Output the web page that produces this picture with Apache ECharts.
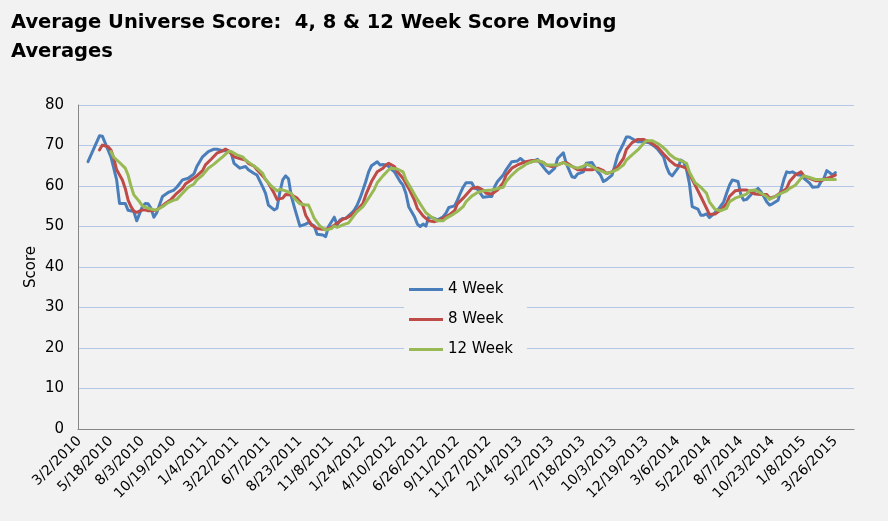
<!DOCTYPE html>
<html><head><meta charset="utf-8">
<script src="https://cdn.jsdelivr.net/npm/echarts@6/dist/echarts.min.js"></script>
<style>html,body{margin:0;padding:0;background:#f2f2f2}#c{width:888px;height:521px}</style>
</head><body><div id="c"></div>
<script>
// Weekly categories (labels shown every 11th week)
const categoryCount = 271;
const categories = [];
for (let i = 0; i < categoryCount; i++) {
  const d = new Date(Date.UTC(2010, 2, 2 + i * 7 + (i >= 146 ? 2 : 0)));
  categories.push((d.getUTCMonth() + 1) + '/' + d.getUTCDate() + '/' + d.getUTCFullYear());
}
const seriesNames = ['4 Week', '8 Week', '12 Week'];
// [week index, score]
const week4 = [[3,66.0],[7,72.4],[8,72.3],[11,67.2],[13,61.5],[14,55.7],[16,55.7],[17,54.0],[19,53.7],[20,51.4],[22,54.9],[23,55.7],[24,55.6],[25,54.5],[26,52.3],[27,53.4],[29,57.4],[31,58.4],[33,59.0],[34,59.7],[36,61.5],[38,61.9],[40,63.0],[41,64.8],[43,67.2],[45,68.5],[47,69.1],[48,69.1],[50,68.7],[52,68.7],[53,68.1],[54,65.6],[56,64.4],[58,64.8],[59,64.0],[61,63.1],[62,62.7],[64,59.8],[65,58.2],[66,55.3],[68,54.1],[69,54.5],[70,58.5],[71,61.5],[72,62.5],[73,61.8],[74,57.5],[75,54.9],[77,50.1],[79,50.6],[80,51.0],[82,50.1],[83,48.1],[85,47.9],[86,47.5],[87,50.0],[89,52.3],[90,50.4],[91,51.6],[92,52.0],[93,52.0],[95,53.3],[96,54.1],[97,55.3],[98,57.0],[99,59.0],[100,61.1],[101,63.5],[102,65.0],[104,66.0],[105,65.2],[106,65.3],[107,65.2],[108,64.8],[110,63.5],[111,62.3],[112,61.1],[113,60.2],[114,58.2],[115,54.9],[117,52.4],[118,50.6],[119,50.0],[120,50.6],[121,50.1],[122,52.4],[124,52.0],[125,51.6],[127,52.4],[128,53.3],[129,54.7],[131,55.1],[132,56.5],[133,58.2],[134,59.7],[135,60.8],[137,60.8],[138,59.5],[139,59.2],[141,57.2],[143,57.4],[144,57.4],[145,59.8],[146,61.1],[148,62.7],[149,64.0],[151,66.0],[153,66.2],[154,66.8],[155,66.2],[156,65.6],[158,66.0],[160,66.6],[161,65.6],[163,63.8],[164,63.1],[166,64.4],[167,66.8],[169,68.2],[170,65.6],[172,62.3],[173,62.1],[174,63.0],[176,63.5],[177,65.6],[179,65.8],[181,63.5],[182,62.7],[183,61.1],[184,61.5],[186,62.7],[187,65.1],[188,67.7],[190,70.5],[191,72.1],[192,72.1],[194,71.3],[195,70.9],[197,70.9],[199,70.7],[201,69.7],[202,69.0],[204,67.2],[205,64.8],[206,63.1],[207,62.5],[209,64.4],[210,66.4],[211,66.0],[212,64.0],[213,60.7],[214,54.9],[216,54.3],[217,52.8],[218,52.8],[219,53.1],[220,52.2],[221,52.8],[223,54.1],[224,55.1],[225,56.1],[226,58.2],[227,60.2],[228,61.5],[230,61.1],[231,57.8],[232,56.5],[233,56.7],[235,58.2],[237,59.4],[238,58.6],[239,57.4],[240,56.1],[241,55.3],[242,55.6],[244,56.5],[245,59.0],[246,61.6],[247,63.5],[248,63.3],[249,63.5],[251,62.7],[252,62.7],[253,61.9],[255,60.7],[256,59.7],[258,59.8],[259,61.1],[260,61.9],[261,63.8],[262,63.3],[263,62.7],[264,63.3]];
const week8 = [[7,68.9],[8,70.1],[10,69.7],[11,68.9],[12,66.8],[13,64.0],[15,61.5],[16,59.4],[17,56.5],[18,54.9],[19,53.8],[20,53.5],[22,54.1],[23,54.1],[24,53.9],[25,53.9],[27,54.1],[29,55.1],[30,55.7],[32,56.7],[34,58.2],[36,59.4],[37,60.5],[39,61.5],[41,62.5],[43,63.8],[44,65.2],[46,66.6],[48,68.1],[50,68.7],[51,69.1],[52,68.7],[54,67.2],[56,66.8],[58,66.4],[59,65.6],[61,64.9],[62,64.0],[64,62.5],[66,60.7],[68,58.2],[69,56.7],[71,57.0],[72,57.9],[74,57.8],[76,57.0],[78,55.3],[79,52.8],[81,50.4],[83,49.5],[85,49.3],[86,49.3],[88,49.8],[90,50.8],[92,51.8],[93,52.0],[95,52.8],[97,54.1],[99,55.7],[100,57.8],[102,61.1],[104,63.5],[106,64.4],[107,65.2],[108,65.6],[110,64.8],[111,63.5],[113,61.9],[115,59.4],[117,56.5],[118,54.5],[120,52.6],[122,51.4],[124,51.2],[125,51.4],[127,52.0],[129,52.8],[131,53.9],[132,55.6],[134,57.0],[136,58.6],[137,59.4],[139,59.7],[141,59.0],[142,58.2],[144,58.0],[146,59.0],[148,60.8],[149,62.7],[151,64.4],[153,65.2],[155,65.8],[156,66.0],[158,66.3],[160,66.2],[162,65.8],[163,65.2],[165,64.8],[167,65.2],[169,65.8],[170,65.8],[172,64.9],[174,64.0],[176,64.0],[177,64.0],[179,64.0],[181,64.4],[183,63.8],[184,63.1],[186,63.5],[188,64.8],[190,66.8],[191,69.0],[193,70.7],[195,71.5],[197,71.5],[198,71.2],[200,70.5],[202,69.5],[204,67.9],[206,66.4],[208,65.2],[210,64.9],[212,64.4],[213,63.0],[215,60.2],[217,57.4],[219,54.5],[220,53.0],[222,53.1],[224,54.1],[226,55.7],[227,57.4],[229,58.8],[231,59.0],[233,59.0],[234,58.6],[236,58.0],[238,57.9],[240,57.9],[241,57.0],[243,57.4],[245,58.4],[247,59.4],[248,61.1],[250,62.7],[252,63.5],[253,62.5],[255,61.9],[257,61.3],[259,61.3],[260,61.6],[262,62.1],[264,62.7]];
const week12 = [[11,68.5],[12,67.1],[14,65.8],[16,64.4],[17,62.7],[18,60.0],[19,57.8],[21,56.1],[22,55.1],[24,54.5],[26,54.1],[27,54.1],[29,54.9],[31,55.9],[33,56.5],[34,56.7],[36,58.2],[38,59.7],[40,60.5],[41,61.5],[43,62.7],[45,64.4],[47,65.4],[48,66.0],[50,67.2],[52,68.5],[53,68.5],[55,67.7],[57,67.2],[58,66.4],[60,65.4],[62,64.4],[64,63.1],[65,61.6],[67,60.0],[69,58.8],[70,59.2],[72,58.8],[74,58.2],[75,57.0],[77,55.6],[79,55.3],[80,55.3],[81,53.7],[82,52.0],[84,50.1],[86,49.1],[88,49.5],[89,50.1],[90,49.8],[92,50.4],[94,50.9],[96,52.8],[97,53.7],[99,54.9],[101,57.0],[103,59.2],[104,60.8],[106,62.5],[108,64.0],[109,64.4],[111,64.2],[113,63.5],[114,61.6],[116,59.2],[118,56.7],[120,54.5],[121,53.4],[123,52.3],[125,51.4],[127,51.4],[128,52.0],[130,52.8],[132,53.7],[134,54.9],[135,56.1],[137,57.5],[139,58.4],[141,58.8],[144,59.0],[145,59.2],[148,59.7],[149,61.1],[151,62.7],[153,64.0],[155,64.9],[156,65.4],[158,66.0],[160,66.3],[162,65.8],[163,65.2],[165,65.2],[167,65.2],[169,65.8],[170,65.4],[172,64.8],[174,64.4],[176,64.9],[177,65.4],[179,64.8],[181,64.0],[183,63.5],[184,63.1],[186,63.5],[188,64.1],[190,65.2],[191,66.4],[193,67.7],[195,68.9],[197,70.5],[198,71.2],[200,71.2],[202,70.5],[203,70.0],[205,68.8],[206,67.9],[208,66.8],[210,66.3],[212,65.6],[213,63.5],[215,60.8],[217,59.7],[219,58.2],[220,56.1],[222,54.2],[224,53.9],[226,54.5],[227,56.1],[229,57.0],[231,57.5],[233,58.0],[234,58.8],[236,59.0],[238,58.2],[240,57.4],[241,56.7],[243,57.4],[245,58.2],[247,58.8],[248,59.4],[250,60.2],[252,61.9],[253,62.5],[255,62.1],[257,61.6],[259,61.6],[260,61.6],[262,61.6],[264,61.6]];
const colors = ['#4a7ebb', '#be4b48', '#98b954'];
const FONT = 'DejaVu Sans';

const chart = echarts.init(document.getElementById('c'), null, {renderer: 'canvas'});
chart.setOption({
  backgroundColor: '#f2f2f2',
  animation: false,
  title: {
    text: 'Average Universe Score:  4, 8 & 12 Week Score Moving\nAverages',
    left: 6, top: 3,
    textStyle: {fontFamily: FONT, fontSize: 19.5, fontWeight: 'bold', color: '#000', lineHeight: 29}
  },
  grid: {left: 78, right: 34, top: 105, bottom: 92, containLabel: false},
  legend: {
    orient: 'vertical', left: 404, top: 278,
    data: seriesNames,
    icon: 'rect', itemWidth: 34, itemHeight: 3, itemGap: 15,
    backgroundColor: '#f2f2f2', padding: [4, 14, 4, 5],
    textStyle: {fontFamily: FONT, fontSize: 15, color: '#000'}
  },
  xAxis: {
    type: 'category', data: categories, boundaryGap: true,
    axisLine: {lineStyle: {color: '#868686', width: 1}},
    axisTick: {show: false},
    axisLabel: {interval: 10, rotate: 45, margin: 10, fontFamily: FONT, fontSize: 14, color: '#000'},
    splitLine: {show: false}
  },
  yAxis: {
    type: 'value', min: 0, max: 80, interval: 10,
    name: 'Score', nameLocation: 'middle', nameGap: 39, nameMoveOverlap: false,
    nameTextStyle: {fontFamily: FONT, fontSize: 15, color: '#000'},
    axisLine: {show: true, lineStyle: {color: '#868686', width: 1}},
    axisTick: {show: false},
    axisLabel: {margin: 14, fontFamily: FONT, fontSize: 15, color: '#000'},
    splitLine: {lineStyle: {color: '#b4c7e7', width: 1}}
  },
  series: [week4, week8, week12].map((d, k) => ({
    name: seriesNames[k], type: 'line', data: d,
    showSymbol: false, symbol: 'none',
    color: colors[k],
    lineStyle: {width: 3, color: colors[k], join: 'round', cap: 'round'}
  }))
});
</script></body></html>
